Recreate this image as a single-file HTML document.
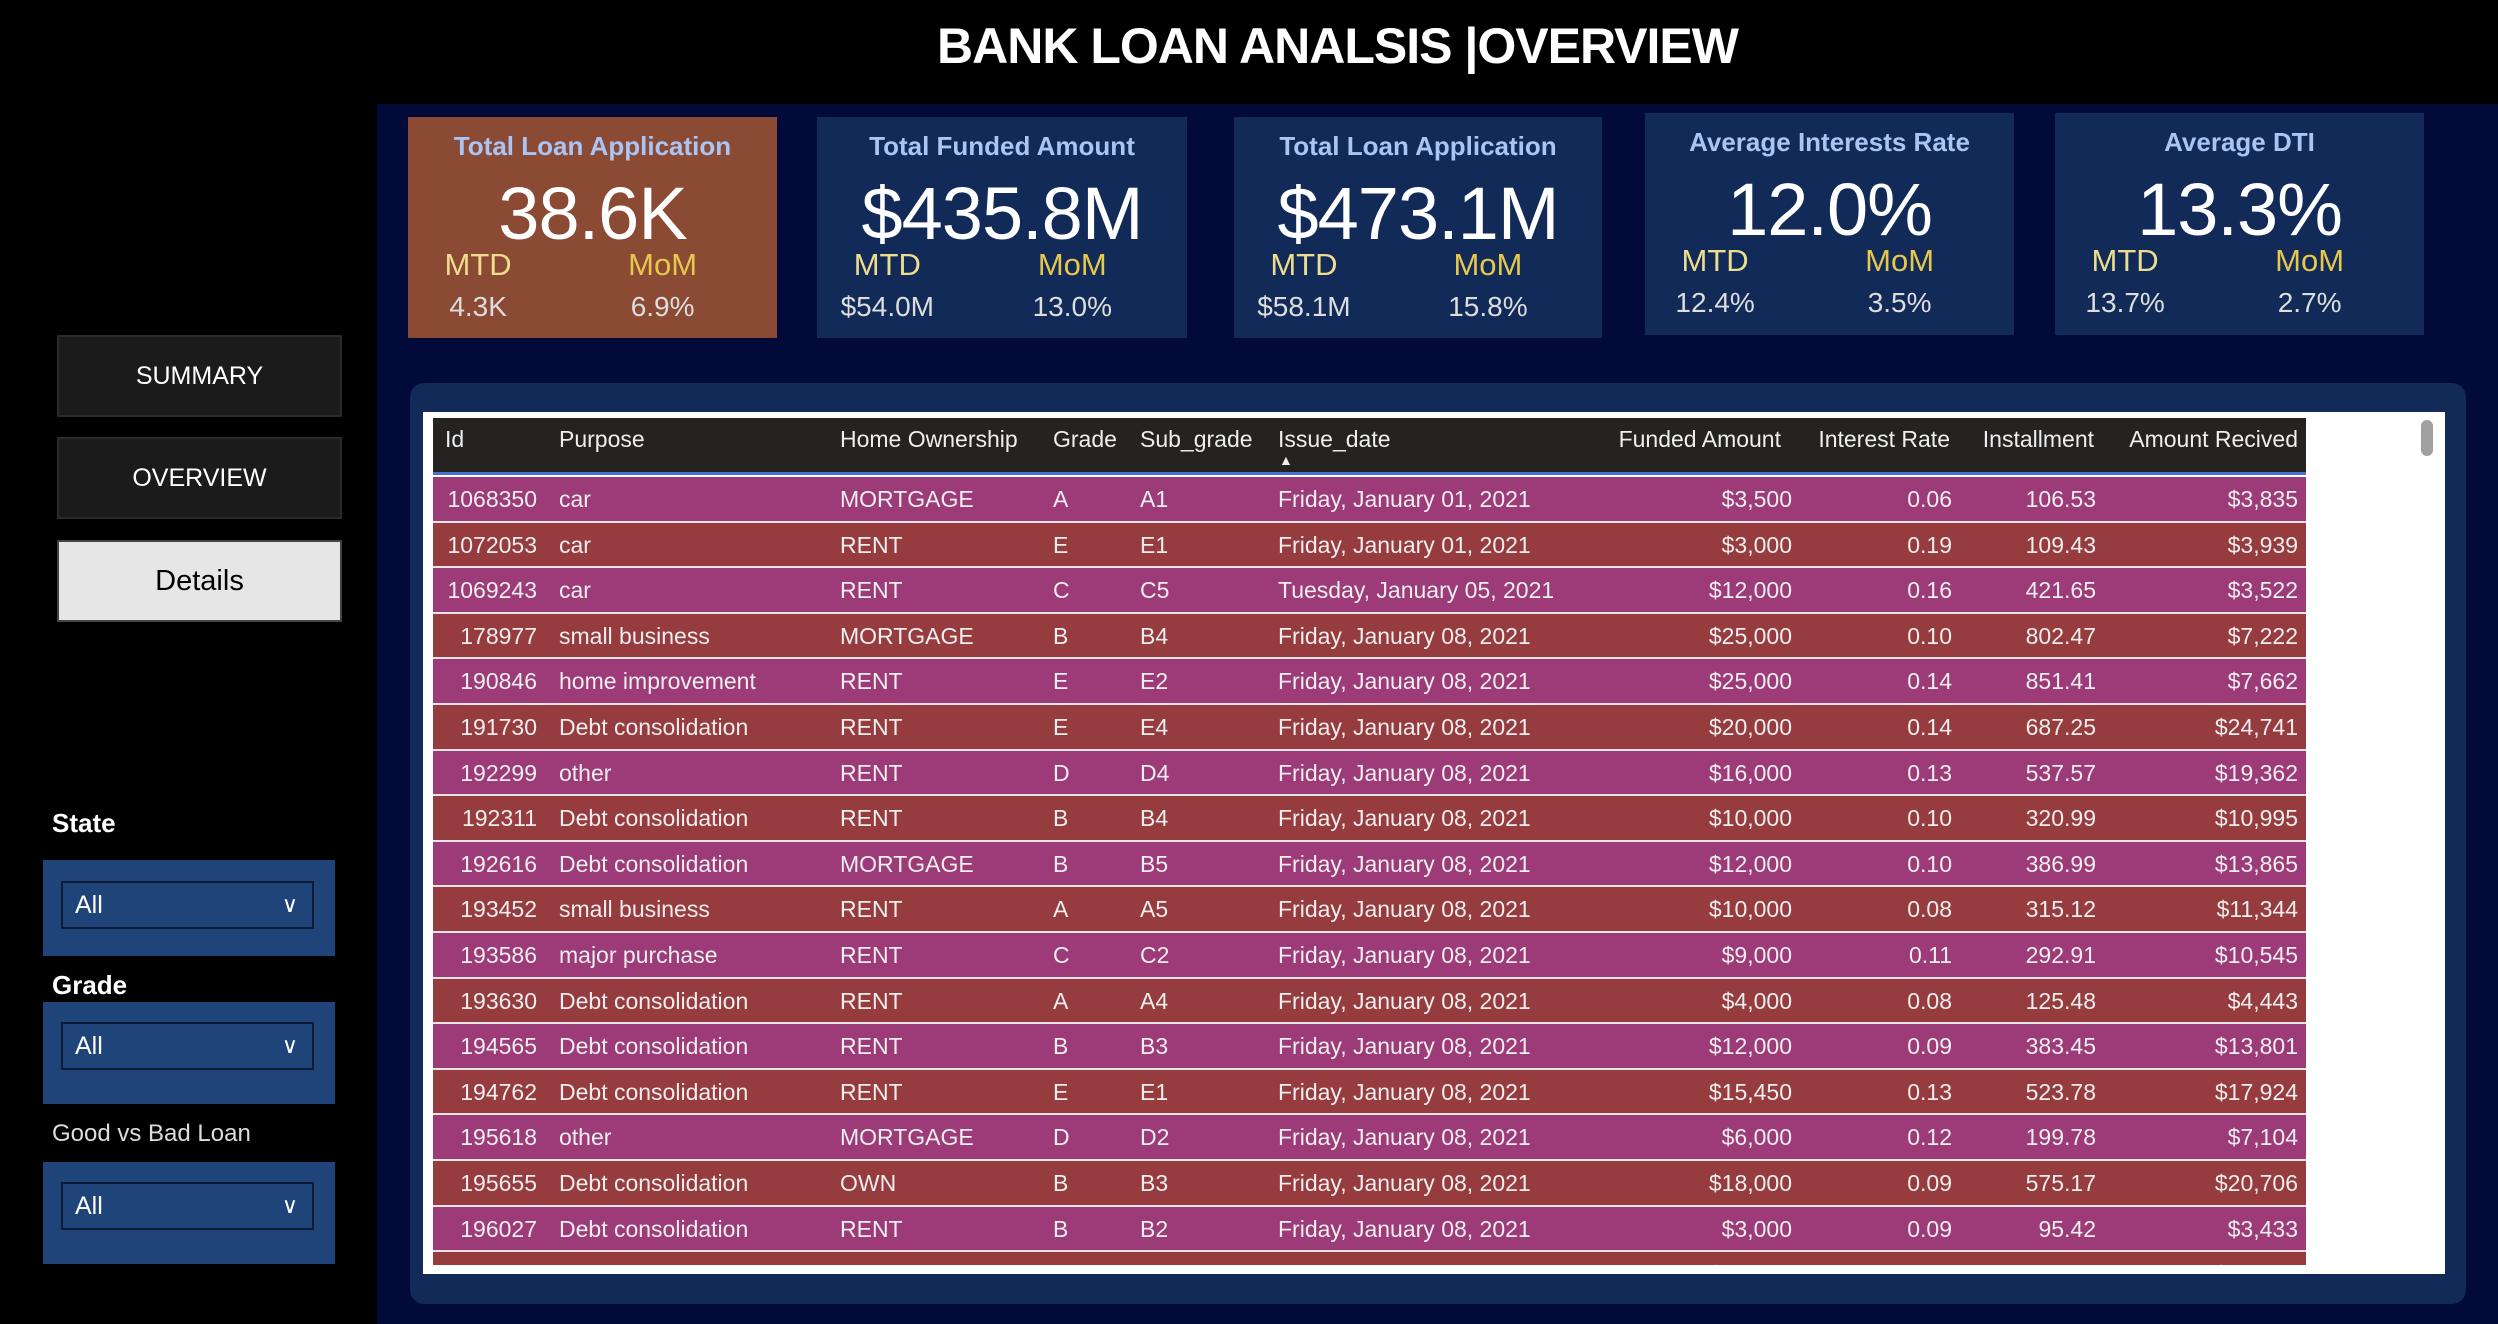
<!DOCTYPE html>
<html><head><meta charset="utf-8">
<style>
*{box-sizing:border-box;margin:0;padding:0}
body{width:2498px;height:1324px;background:#000;font-family:"Liberation Sans",sans-serif;position:relative;overflow:hidden;color:#fff}
.abs{position:absolute}
#main{left:377px;top:104px;width:2121px;height:1220px;background:#020a3a}
#title{left:377px;top:0;width:1921px;height:100px;text-align:center;line-height:92px;font-size:50px;font-weight:bold;letter-spacing:-1px}
.card{background:#112a57;text-align:center}
.card .t{position:absolute;left:0;width:100%;top:14px;font-size:26px;font-weight:bold;color:#a9c4f5}
.card .v{position:absolute;left:0;width:100%;top:52px;font-size:74px;line-height:90px;letter-spacing:-1px}
.card .l{position:absolute;top:130px;font-size:31px;width:50%;text-align:center}
.card .n{position:absolute;top:174px;font-size:28px;color:#ddd;width:50%;text-align:center}
.nav{left:57px;width:285px;height:82px;background:#1b1b1b;border:2px solid #2a2a2a;text-align:center;line-height:78px;font-size:25px}
.lbl{left:52px;font-size:26px}
.pnl{left:43px;width:292px;background:#1f4479}
.sel{position:absolute;left:18px;width:253px;height:48px;border:2px solid #111a33;font-size:25px;line-height:44px;padding-left:12px}
.sel span{position:absolute;right:14px;top:0;font-size:22px}
#panel{left:410px;top:383px;width:2056px;height:921px;background:#112a57;border-radius:14px}
#white{left:423px;top:412px;width:2022px;height:862px;background:#fff}
#hdr{left:433px;top:418px;width:1873px;height:57px;background:#242322;border-bottom:3px solid #4a6fd0}
.h{position:absolute;top:8px;font-size:23px;color:#eee;white-space:nowrap}
#rows{left:433px;top:477px;width:1873px;height:788px;overflow:hidden}
.row{position:absolute;left:0;width:1873px;height:45.6px;border-bottom:2px solid #e5e5e5}
.c{position:absolute;top:9px;font-size:23px;color:#eee;white-space:nowrap}
</style></head><body>
<div class="abs" id="main"></div>
<div class="abs" id="title">BANK LOAN ANALSIS |OVERVIEW</div>

<div class="abs card" style="left:408px;top:117px;width:369px;height:221px;background:#8b4a33">
<div class="t">Total Loan Application</div><div class="v">38.6K</div>
<div class="l" style="left:-6%;color:#eedc8f">MTD</div><div class="l" style="left:44%;color:#e6c84d">MoM</div>
<div class="n" style="left:-6%">4.3K</div><div class="n" style="left:44%">6.9%</div></div>

<div class="abs card" style="left:817px;top:117px;width:370px;height:221px">
<div class="t">Total Funded Amount</div><div class="v">$435.8M</div>
<div class="l" style="left:-6%;color:#eedc8f">MTD</div><div class="l" style="left:44%;color:#e6c84d">MoM</div>
<div class="n" style="left:-6%">$54.0M</div><div class="n" style="left:44%">13.0%</div></div>

<div class="abs card" style="left:1234px;top:117px;width:368px;height:221px">
<div class="t">Total Loan Application</div><div class="v">$473.1M</div>
<div class="l" style="left:-6%;color:#eedc8f">MTD</div><div class="l" style="left:44%;color:#e6c84d">MoM</div>
<div class="n" style="left:-6%">$58.1M</div><div class="n" style="left:44%">15.8%</div></div>

<div class="abs card" style="left:1645px;top:113px;width:369px;height:222px">
<div class="t">Average Interests Rate</div><div class="v">12.0%</div>
<div class="l" style="left:-6%;color:#eedc8f">MTD</div><div class="l" style="left:44%;color:#e6c84d">MoM</div>
<div class="n" style="left:-6%">12.4%</div><div class="n" style="left:44%">3.5%</div></div>

<div class="abs card" style="left:2055px;top:113px;width:369px;height:222px">
<div class="t">Average DTI</div><div class="v">13.3%</div>
<div class="l" style="left:-6%;color:#eedc8f">MTD</div><div class="l" style="left:44%;color:#e6c84d">MoM</div>
<div class="n" style="left:-6%">13.7%</div><div class="n" style="left:44%">2.7%</div></div>

<div class="abs nav" style="top:335px">SUMMARY</div>
<div class="abs nav" style="top:437px">OVERVIEW</div>
<div class="abs nav" style="top:540px;background:#e6e6e6;color:#000;font-size:29px;border-color:#444">Details</div>

<div class="abs lbl" style="top:808px;font-weight:bold">State</div>
<div class="abs pnl" style="top:860px;height:96px">
<div class="sel" style="top:21px">All<span>&#x2228;</span></div></div>
<div class="abs lbl" style="top:970px;font-weight:bold">Grade</div>
<div class="abs pnl" style="top:1002px;height:102px">
<div class="sel" style="top:20px">All<span>&#x2228;</span></div></div>
<div class="abs lbl" style="top:1120px;font-size:24px;color:#ddd">Good vs Bad Loan</div>
<div class="abs pnl" style="top:1162px;height:102px">
<div class="sel" style="top:20px">All<span>&#x2228;</span></div></div>

<div class="abs" id="panel"></div>
<div class="abs" id="white"></div>
<div class="abs" style="left:2421px;top:420px;width:12px;height:36px;border-radius:6px;background:#a0a0a0"></div>
<div class="abs" id="hdr">
<div class="h" style="left:12px">Id</div>
<div class="h" style="left:126px">Purpose</div>
<div class="h" style="left:407px">Home Ownership</div>
<div class="h" style="left:620px">Grade</div>
<div class="h" style="left:707px">Sub_grade</div>
<div class="h" style="left:845px">Issue_date</div>
<div class="h" style="left:846px;top:34px;font-size:14px">&#9650;</div>
<div class="h" style="right:525px">Funded Amount</div>
<div class="h" style="right:356px">Interest Rate</div>
<div class="h" style="right:212px">Installment</div>
<div class="h" style="right:8px">Amount Recived</div>
</div>
<div class="abs" id="rows"></div>

<script>
const ids=["1068350","1072053","1069243","178977","190846","191730","192299","192311","192616","193452","193586","193630","194565","194762","195618","195655","196027","196143"];
const purposes=["car","car","car","small business","home improvement","Debt consolidation","other","Debt consolidation","Debt consolidation","small business","major purchase","Debt consolidation","Debt consolidation","Debt consolidation","other","Debt consolidation","Debt consolidation","Debt consolidation"];
const ownership=["MORTGAGE","RENT","RENT","MORTGAGE","RENT","RENT","RENT","RENT","MORTGAGE","RENT","RENT","RENT","RENT","RENT","MORTGAGE","OWN","RENT","RENT"];
const grades=["A","E","C","B","E","E","D","B","B","A","C","A","B","E","D","B","B","B"];
const subGrades=["A1","E1","C5","B4","E2","E4","D4","B4","B5","A5","C2","A4","B3","E1","D2","B3","B2","B2"];
const dates=["Friday, January 01, 2021","Friday, January 01, 2021","Tuesday, January 05, 2021"].concat(Array(15).fill("Friday, January 08, 2021"));
const funded=["$3,500","$3,000","$12,000","$25,000","$25,000","$20,000","$16,000","$10,000","$12,000","$10,000","$9,000","$4,000","$12,000","$15,450","$6,000","$18,000","$3,000","$15,000"];
const rates=["0.06","0.19","0.16","0.10","0.14","0.14","0.13","0.10","0.10","0.08","0.11","0.08","0.09","0.13","0.12","0.09","0.09","0.09"];
const installments=["106.53","109.43","421.65","802.47","851.41","687.25","537.57","320.99","386.99","315.12","292.91","125.48","383.45","523.78","199.78","575.17","95.42","477.07"];
const received=["$3,835","$3,939","$3,522","$7,222","$7,662","$24,741","$19,362","$10,995","$13,865","$11,344","$10,545","$4,443","$13,801","$17,924","$7,104","$20,706","$3,433","$17,184"];
const body=document.getElementById('rows');
const rowH=45.6;
function cell(row,text,pos,right){
  const d=document.createElement('div');
  d.className='c';
  if(right) d.style.right=pos+'px'; else d.style.left=pos+'px';
  d.textContent=text;
  row.appendChild(d);
}
ids.forEach((id,i)=>{
  const r=document.createElement('div');
  r.className='row';
  
  
  r.style.top=(i*rowH)+'px';
  r.style.background=i%2===0?'#9c3b78':'#963b3e';
  cell(r,id,1769,true);
  cell(r,purposes[i],126,false);
  cell(r,ownership[i],407,false);
  cell(r,grades[i],620,false);
  cell(r,subGrades[i],707,false);
  cell(r,dates[i],845,false);
  cell(r,funded[i],514,true);
  cell(r,rates[i],354,true);
  cell(r,installments[i],210,true);
  cell(r,received[i],8,true);
  body.appendChild(r);
});
</script>
</body></html>
